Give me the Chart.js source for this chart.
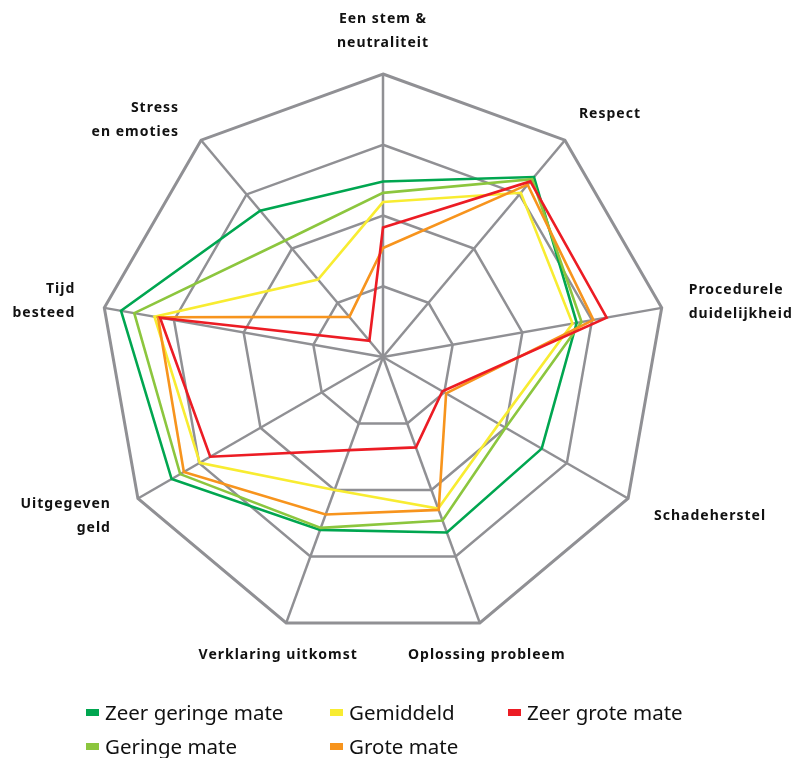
<!DOCTYPE html>
<html>
<head>
<meta charset="utf-8">
<script src="https://cdn.jsdelivr.net/npm/chart.js@4/dist/chart.umd.min.js"></script>
<style>
  html, body { margin: 0; padding: 0; background: #ffffff; }
  #wrap { position: relative; width: 795px; height: 758px; }
  #legend { position: absolute; left: 0; top: 0; width: 795px; height: 758px; pointer-events: none;
            font-family: "Noto Sans", "Open Sans", sans-serif; font-size: 20.5px; color: #111; }
  .item { position: absolute; white-space: nowrap; line-height: 24px; }
  .box { position: absolute; width: 13px; height: 7px; top: 9px; }
  .txt { position: absolute; left: 19px; top: 0; }
</style>
</head>
<body>
<div id="wrap">
  <canvas id="c" width="795" height="758"></canvas>
  <div id="legend"></div>
</div>
<script>
// ---- data ----
const categories = [
  ["Een stem &", "neutraliteit"],
  ["Respect"],
  ["Procedurele", "duidelijkheid"],
  ["Schadeherstel"],
  ["Oplossing probleem"],
  ["Verklaring uitkomst"],
  ["Uitgegeven", "geld"],
  ["Tijd", "besteed"],
  ["Stress", "en emoties"]
];
const seriesNames = ["Zeer geringe mate", "Geringe mate", "Gemiddeld", "Grote mate", "Zeer grote mate"];
const seriesColors = ["#00a650", "#8cc63e", "#f8ec31", "#f7941d", "#ec1c24"];
const zeerGeringeMate = [2.48, 3.32, 2.78, 2.59, 2.64, 2.60, 3.45, 3.76, 2.70];
const geringeMate     = [2.32, 3.28, 2.85, 2.00, 2.46, 2.57, 3.31, 3.57, 2.15];
const gemiddeld       = [2.19, 3.03, 2.72, 1.89, 2.28, 2.00, 2.99, 3.28, 1.43];
const groteMate       = [1.54, 3.18, 3.02, 1.03, 2.30, 2.37, 3.25, 3.23, 0.74];
const zeerGroteMate   = [1.83, 3.24, 3.21, 0.97, 1.36, 1.40, 2.82, 3.20, 0.30];
const scaleMin = 0, scaleMax = 4, scaleStep = 1;

const seriesValues = [zeerGeringeMate, geringeMate, gemiddeld, groteMate, zeerGroteMate];

// ---- label placement (style) ----
const labelStyle = [
  { align: "center", dx: 0,   dy: -55 },
  { align: "left",   dx: 14,  dy: -26 },
  { align: "left",   dx: 27,  dy: -18 },
  { align: "left",   dx: 26,  dy: 18 },
  { align: "center", dx: 7,   dy: 32 },
  { align: "center", dx: -8,  dy: 32 },
  { align: "right",  dx: -27, dy: 6 },
  { align: "right",  dx: -29, dy: -19 },
  { align: "right",  dx: -22, dy: -32 }
];
const labelLineHeight = 24;

const labelPlugin = {
  id: "axisLabels",
  afterDraw(chart) {
    const r = chart.scales.r;
    const ctx = chart.ctx;
    ctx.save();
    ctx.font = "bold 14px 'Noto Sans', 'Open Sans', sans-serif";
    try { ctx.letterSpacing = "1px"; } catch (e) {}
    ctx.fillStyle = "#111111";
    ctx.textBaseline = "middle";
    categories.forEach((lines, i) => {
      const p = r.getPointPosition(i, r.drawingArea);
      const st = labelStyle[i];
      ctx.textAlign = st.align;
      lines.forEach((ln, k) => {
        ctx.fillText(ln, p.x + st.dx, p.y + st.dy + k * labelLineHeight);
      });
    });
    ctx.restore();
  }
};

const drawOrder = [4, 3, 2, 1, 0];

new Chart(document.getElementById("c"), {
  type: "radar",
  data: {
    labels: categories,
    datasets: seriesNames.map((name, i) => ({
      label: name,
      data: seriesValues[i],
      borderColor: seriesColors[i],
      backgroundColor: seriesColors[i],
      borderWidth: 2.6,
      pointRadius: 0,
      pointHoverRadius: 0,
      fill: false,
      tension: 0,
      order: drawOrder[i]
    }))
  },
  options: {
    responsive: false,
    animation: false,
    devicePixelRatio: 1,
    layout: { padding: { left: 100, top: 74, right: 129, bottom: 118 } },
    plugins: { legend: { display: false }, tooltip: { enabled: false } },
    scales: {
      r: {
        min: scaleMin,
        max: scaleMax,
        ticks: { display: false, stepSize: scaleStep },
        pointLabels: { display: false },
        grid: {
          color: "#909094",
          lineWidth: (c) => (c.index === 4 ? 3 : 2.5)
        },
        angleLines: { color: "#909094", lineWidth: 2.5 }
      }
    }
  },
  plugins: [labelPlugin]
});

// ---- HTML legend (Excel column-major layout) ----
const legendPos = [
  { x: 86, y: 700 }, { x: 86, y: 734 },
  { x: 330, y: 700 }, { x: 330, y: 734 },
  { x: 508, y: 700 }
];
const legendEl = document.getElementById("legend");
seriesNames.forEach((name, i) => {
  const it = document.createElement("div");
  it.className = "item";
  it.style.left = legendPos[i].x + "px";
  it.style.top = legendPos[i].y + "px";
  const b = document.createElement("span");
  b.className = "box";
  b.style.background = seriesColors[i];
  const t = document.createElement("span");
  t.className = "txt";
  t.textContent = name;
  it.appendChild(b);
  it.appendChild(t);
  legendEl.appendChild(it);
});
</script>
</body>
</html>
